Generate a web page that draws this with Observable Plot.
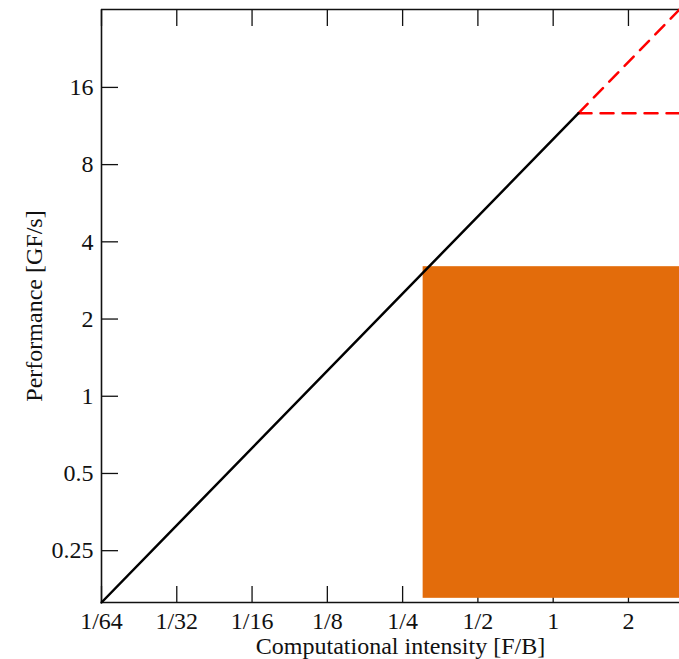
<!DOCTYPE html>
<html>
<head>
<meta charset="utf-8">
<script src="https://cdn.jsdelivr.net/npm/d3@7"></script>
<script src="https://cdn.jsdelivr.net/npm/@observablehq/plot@0.6"></script>
<style>
  html, body { margin: 0; padding: 0; background: #fff; }
  #chart svg { display: block; }
</style>
</head>
<body>
<div id="chart"></div>
<script>
// ---- data ----
const xDomain = [1/64, 3.2];
const yDomain = [0.157, 32.2];
const xTicks = [1/64, 1/32, 1/16, 1/8, 1/4, 1/2, 1, 2];
const xTickLabels = ["1/64", "1/32", "1/16", "1/8", "1/4", "1/2", "1", "2"];
const yTicks = [0.25, 0.5, 1, 2, 4, 8, 16];
const yTickLabels = ["0.25", "0.5", "1", "2", "4", "8", "16"];
// memory-bound roof (solid black)
const memX = [1/64, 1.263];
const memY = [0.157, 12.7];
// extension of bandwidth roof (red dashed)
const extX = [1.263, 3.2];
const extY = [12.7, 32.2];
// compute roof (red dashed)
const peakX = [1.263, 3.2];
const peakY = [12.7, 12.7];
// measured region (orange block)
const regionX = [0.302, 3.2];
const regionY = [0.163, 3.2];

const xLabel = "Computational intensity [F/B]";
const yLabel = "Performance [GF/s]";

const toPts = (xs, ys) => xs.map((x, i) => ({x, y: ys[i]}));
const near = (ticks, labels) => d => {
  const i = ticks.findIndex(t => Math.abs(Math.log(t / d)) < 1e-6);
  return i < 0 ? "" : labels[i];
};

const font = "Liberation Serif, Times New Roman, serif";

const chart = Plot.plot({
  width: 679,
  height: 659,
  marginLeft: 101,
  marginRight: 0,
  marginTop: 9,
  marginBottom: 57,
  style: {fontFamily: font, fontSize: "24px", color: "#111", background: "#fff"},
  x: {type: "log", base: 2, domain: xDomain},
  y: {type: "log", base: 2, domain: yDomain},
  marks: [
    Plot.axisX({anchor: "bottom", ticks: xTicks, tickFormat: near(xTicks, xTickLabels), tickSize: -16, tickPadding: 25, label: null, strokeWidth: 1.3, fontSize: 24}),
    Plot.axisX({anchor: "top", ticks: xTicks, tickFormat: () => "", tickSize: -16, label: null, strokeWidth: 1.3}),
    Plot.axisY({anchor: "left", ticks: yTicks, tickFormat: near(yTicks, yTickLabels), tickSize: -17, tickPadding: 25, label: null, strokeWidth: 1.3, fontSize: 24}),
    Plot.ruleX([xDomain[0]], {stroke: "#111", strokeWidth: 1.6}),
    Plot.ruleY(yDomain, {stroke: "#111", strokeWidth: 1.6}),
    Plot.rect([{}], {x1: regionX[0], x2: regionX[1], y1: regionY[0], y2: regionY[1], fill: "#E36C0B"}),
    Plot.line(toPts(extX, extY), {x: "x", y: "y", stroke: "#FF0000", strokeWidth: 2.5, strokeDasharray: "13,9"}),
    Plot.line(toPts(peakX, peakY), {x: "x", y: "y", stroke: "#FF0000", strokeWidth: 2.5, strokeDasharray: "13,9"}),
    Plot.line(toPts(memX, memY), {x: "x", y: "y", stroke: "#000", strokeWidth: 2.5}),
    Plot.text([xLabel], {frameAnchor: "bottom", lineAnchor: "middle", textAnchor: "middle", dy: 44, dx: 10, text: d => d, fontSize: 24, fill: "#111"}),
    Plot.text([yLabel], {frameAnchor: "left", lineAnchor: "middle", textAnchor: "middle", dx: -67, rotate: -90, text: d => d, fontSize: 24, fill: "#111"})
  ]
});
document.getElementById("chart").appendChild(chart);
</script>
</body>
</html>
